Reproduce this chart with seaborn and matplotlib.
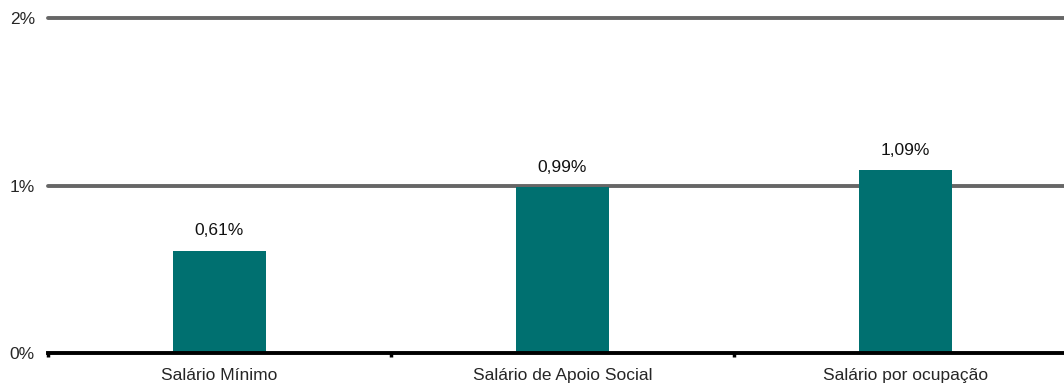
import matplotlib
matplotlib.use("Agg")
import matplotlib.pyplot as plt
import seaborn as sns

categories = ["Salário Mínimo", "Salário de Apoio Social", "Salário por ocupação"]
values = [0.61, 0.99, 1.09]
value_labels = ["0,61%", "0,99%", "1,09%"]
y_ticks = [0, 1, 2]
y_tick_labels = ["0%", "1%", "2%"]

sns.set_style("white")
plt.rcParams['font.family'] = ['Liberation Sans', 'DejaVu Sans']

fig = plt.figure(figsize=(10.64, 3.85), dpi=100)
ax = fig.add_axes([0.0451, 0.0831, 0.967, 0.870])

# gridlines behind the bars
for y in y_ticks[1:]:
    ax.axhline(y, color="#666666", linewidth=2.8, zorder=0, clip_on=False)

sns.barplot(x=categories, y=values, color="#007070", width=0.27,
            saturation=1, linewidth=0, edgecolor="none", ax=ax, zorder=2)

for i, (v, lab) in enumerate(zip(values, value_labels)):
    ax.text(i, v + 0.075, lab, ha="center", va="bottom", fontsize=12.5, color="#111111")

ax.set_xlim(-0.5, 2.5)
ax.set_ylim(0, 2)
ax.set_yticks(y_ticks)
ax.set_yticklabels(y_tick_labels, fontsize=12.5)
ax.tick_params(axis="y", length=0, pad=9.5)
ax.tick_params(axis="x", which="major", length=0, labelsize=12.5, pad=11)
ax.set_xticks([-0.5, 0.5, 1.5, 2.5], minor=True)
ax.tick_params(axis="x", which="minor", bottom=True, length=3, width=2.5, color="black")

for side in ["top", "right", "left"]:
    ax.spines[side].set_visible(False)
ax.spines["bottom"].set_color("black")
ax.spines["bottom"].set_linewidth(2.8)
ax.spines["bottom"].set_zorder(3)
ax.set_xlabel("")
ax.set_ylabel("")

fig.savefig("out.png", dpi=100)
